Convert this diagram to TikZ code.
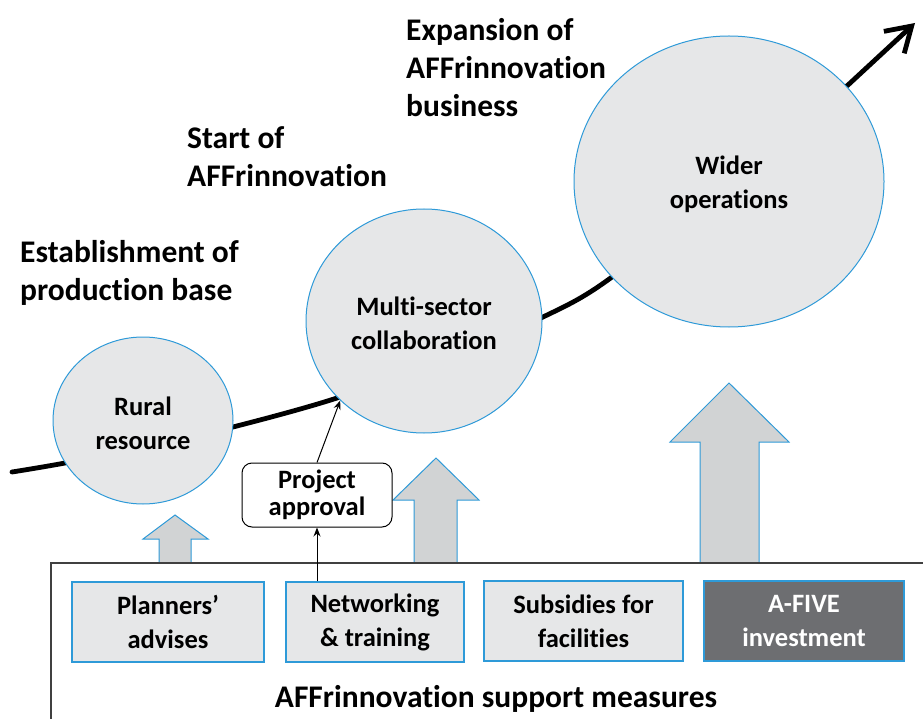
\documentclass[tikz,border=0pt]{standalone}
\usepackage{fontspec}
\setmainfont[Ligatures={NoCommon,TeX}]{Carlito}
\usetikzlibrary{shapes.geometric,arrows.meta}
\definecolor{cblue}{HTML}{2E9AD8}
\definecolor{cfill}{HTML}{E6E7E8}
\definecolor{afill}{HTML}{D1D3D4}
\definecolor{dfill}{HTML}{6D6E71}
\definecolor{frame}{HTML}{404040}
\tikzset{
  bubble/.style={ellipse,draw=cblue,line width=1pt,fill=cfill,align=center,inner sep=0pt,
    font=\fontsize{26.5}{34}\selectfont\bfseries},
  measure/.style={rectangle,draw=cblue,line width=1.3pt,fill=cfill,align=center,
    minimum width=#1,minimum height=80pt,inner sep=0pt,
    font=\fontsize{26.5}{34}\selectfont\bfseries},
  heading/.style={anchor=west,align=left,inner sep=0pt,
    font=\fontsize{31.5}{38}\selectfont\bfseries},
  blockarrow/.style={fill=afill,draw=cblue,line width=1pt},
  thinlink/.style={draw=black,line width=1pt,-{Stealth[length=9pt,width=7pt]}}
}
\begin{document}
\begin{tikzpicture}[x=1pt,y=-1pt]
\useasboundingbox (0,0) rectangle (923,719);
% growth curve
\coordinate (tip) at (915,23);
\draw[line width=4.8pt,line cap=round,-{Straight Barb[length=24pt,width=30pt]}]
  plot[smooth,tension=0.55] coordinates {(12,472) (65,463) (150,446) (233,427) (337,398) (440,360) (543,317) (612,277) (730,180) (848,85)} -- (tip);
% bubbles
\node[bubble,minimum width=180pt,minimum height=167pt] (rural) at (143,420.5) {\strut Rural\\resource};
\node[bubble,minimum width=236pt,minimum height=224pt] (multi) at (424,321) {\strut Multi-sector\\collaboration};
\node[bubble,minimum width=310pt,minimum height=291pt] (wider) at (729,181.5) {\strut Wider\\operations};
% headings
\node[heading] (h1) at (20,273) {Establishment of\\production base};
\node[heading] (h2) at (187,157) {Start of\\AFFrinnovation};
\node[heading] (h3) at (406,68) {Expansion of\\AFFrinnovation\\business};
% block arrows
\draw[blockarrow] (159,563) -- (159,539) -- (143,539) -- (175,515) -- (208,539) -- (191,539) -- (191,563) -- cycle;
\draw[blockarrow] (414,563) -- (414,500) -- (393,500) -- (436,458) -- (479,500) -- (457,500) -- (457,563) -- cycle;
\draw[blockarrow] (700,563) -- (700,442) -- (670,442) -- (729,383) -- (789,442) -- (759,442) -- (759,563) -- cycle;
% frame of support measures
\draw[draw=frame,line width=1.3pt] (923,563) -- (51,563) -- (51,719);
% measure boxes
\node[measure=192pt] (plan) at (168,622) {Planners’\\advises};
\node[measure=178pt] (net) at (375,622) {Networking\\\& training};
\node[measure=199pt] (subs) at (583.5,621) {Subsidies for\\facilities};
\node[measure=200pt,fill=dfill,text=white] (afive) at (804,621) {A-FIVE\\investment};
\node[inner sep=0pt,font=\fontsize{31.5}{38}\selectfont\bfseries] (title) at (496,699) {AFFrinnovation support measures};
% project approval
\node[draw=black,line width=1pt,rounded corners=10pt,fill=white,align=center,
  minimum width=150pt,minimum height=64pt,inner sep=0pt,
  font=\fontsize{26.5}{27}\selectfont\bfseries] (appr) at (317,495) {Project\\approval};
\draw[thinlink] (appr.south |- net.north) -- (appr.south);
\draw[thinlink] (appr.north) -- (multi.south west);
\end{tikzpicture}
\end{document}
